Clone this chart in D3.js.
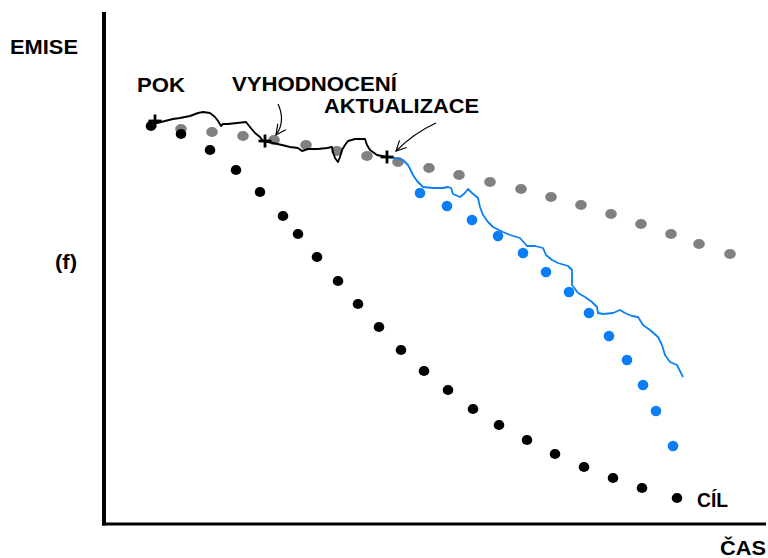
<!DOCTYPE html>
<html>
<head>
<meta charset="utf-8">
<script src="https://cdn.jsdelivr.net/npm/d3@7"></script>
<style>
  html, body { margin: 0; padding: 0; background: #fff; }
  svg { display: block; }
  text { font-family: "Liberation Sans", Arial, Helvetica, sans-serif; font-weight: bold; fill: #000; }
</style>
</head>
<body>
<svg id="chart" width="768" height="558"></svg>
<script>
// ---- Data (time units on x, emission units on y) ----
const targetDots = [ // black: target path (CÍL)
  [9.4,79.6],[15.4,78.0],[21.2,74.8],[26.4,70.8],[31.2,66.4],[35.8,61.6],[38.8,58.0],
  [42.6,53.4],[46.8,48.6],[50.8,44.0],[55.0,39.4],[59.4,34.8],[64.0,30.6],[68.8,26.8],
  [73.8,23.0],[79.0,19.8],[84.6,16.8],[90.2,14.0],[96.0,11.4],[101.8,9.2],[107.6,7.2],[114.6,5.2]
];
const baselineDots = [ // gray: business as usual
  [15.4,79.0],[21.6,78.4],[27.8,77.6],[34.0,76.8],[40.4,75.8],[46.6,74.6],[52.6,73.6],
  [58.8,72.4],[65.0,71.2],[71.0,69.8],[77.2,68.4],[83.4,67.0],[89.4,65.4],[95.4,63.8],
  [101.4,62.0],[107.4,60.0],[113.4,58.0],[119.0,56.0],[125.2,54.0]
];
const updatedDots = [ // blue: updated target path
  [63.2,66.2],[68.6,63.6],[73.6,60.8],[78.8,57.6],[83.8,54.2],[88.4,50.4],[93.0,46.4],
  [97.0,42.2],[101.0,37.6],[104.6,32.8],[107.8,27.8],[110.4,22.6],[113.8,15.6]
];
const actualLine = [ // black: actual emissions
  [9.2,80.0],[10.6,80.2],[12.2,80.6],[13.8,81.0],[15.2,81.2],[17.2,81.6],[18.8,82.2],
  [19.8,82.4],[21.2,82.2],[22.2,81.4],[22.8,80.6],[23.4,79.6],[23.8,80.0],[24.8,80.0],
  [26.6,80.2],[28.4,80.4],[29.2,79.4],[30.2,78.2],[31.2,77.4],[31.8,76.6],[33.8,76.2],
  [35.6,75.8],[37.2,75.4],[38.8,75.2],[39.6,74.6],[40.8,75.0],[42.8,75.0],[44.6,75.2],
  [45.6,75.4],[45.8,74.4],[46.2,73.2],[46.8,72.4],[47.2,73.4],[47.6,74.8],[48.2,75.8],
  [48.8,76.6],[50.2,77.0],[52.2,77.0],[52.6,75.8],[53.2,74.8],[54.6,73.8],[56.6,73.4]
];
const projectedLine = [ // blue: projected emissions after update
  [56.6,73.4],[58.2,73.2],[59.8,72.8],[60.8,71.8],[61.8,69.8],[62.6,68.6],[63.8,67.4],
  [65.8,67.2],[67.8,67.2],[68.8,67.4],[69.4,67.2],[69.8,66.0],[71.2,65.4],[72.2,66.2],
  [72.8,67.0],[73.6,66.2],[74.8,65.2],[75.2,63.4],[75.8,61.8],[76.8,60.4],[77.8,59.4],
  [79.8,58.4],[81.2,57.8],[83.2,57.2],[84.6,55.6],[86.2,55.6],[87.8,55.2],[88.4,53.8],
  [89.6,52.8],[90.8,52.2],[92.8,51.6],[93.6,50.8],[93.6,47.8],[94.8,46.2],[96.2,45.4],
  [97.6,44.4],[98.6,43.4],[98.8,42.2],[99.8,42.0],[101.8,42.2],[103.2,42.8],[104.2,42.2],
  [105.6,41.6],[106.8,41.4],[107.8,39.8],[109.2,38.8],[110.8,37.4],[111.6,35.8],
  [112.2,33.8],[113.2,32.4],[114.6,31.8],[115.8,29.4]
];
const milestones = [[10.2,80.6],[32.2,76.6],[56.6,73.4]]; // POK, VYHODNOCENÍ, AKTUALIZACE
const arrows = [ // [start, control, end]
  [[34.8,84.0],[36.4,80.6],[34.4,77.8]],
  [[66.4,80.2],[62.0,78.2],[58.4,74.6]]
];
const labels = [
  {t:"EMISE", x:10, y:54, w:68},
  {t:"(f)", x:55, y:269, w:22},
  {t:"POK", x:137, y:92, w:48},
  {t:"VYHODNOCENÍ", x:232, y:91, w:165},
  {t:"AKTUALIZACE", x:324, y:113, w:155},
  {t:"CÍL", x:697, y:507, w:31},
  {t:"ČAS", x:720, y:555, w:46}
];

// ---- Scales ----
const svg = d3.select("#chart");
const x = d3.scaleLinear().domain([0,132]).range([104,764]);
const y = d3.scaleLinear().domain([0,100]).range([524,24]);

// ---- Axes (plain lines, no ticks) ----
svg.append("line").attr("x1",x(0)).attr("x2",x(0)).attr("y1",y(102.4)).attr("y2",y(0)+1.5)
  .attr("stroke","#000").attr("stroke-width",4);
svg.append("line").attr("x1",x(0)-2).attr("x2",x(132.4)).attr("y1",y(0)).attr("y2",y(0))
  .attr("stroke","#000").attr("stroke-width",3);

// ---- Dots ----
function dots(data, color, rx, ry) {
  svg.append("g").selectAll("ellipse").data(data).join("ellipse")
    .attr("cx", d => x(d[0])).attr("cy", d => y(d[1]))
    .attr("rx", rx).attr("ry", ry).attr("fill", color);
}
dots(baselineDots, "#808080", 5.8, 5);
dots(updatedDots, "#0a7ef7", 5.3, 5.3);
dots(targetDots, "#000", 5.3, 5.1);

// ---- Lines ----
const line = d3.line().x(d => x(d[0])).y(d => y(d[1])).curve(d3.curveLinear);
svg.append("path").attr("d", line(projectedLine)).attr("fill","none")
  .attr("stroke","#0a7ef7").attr("stroke-width",1.8).attr("stroke-linejoin","round");
svg.append("path").attr("d", line(actualLine)).attr("fill","none")
  .attr("stroke","#000").attr("stroke-width",1.9).attr("stroke-linejoin","round");

// ---- Milestone crosses ----
const cross = svg.append("g").selectAll("g").data(milestones).join("g")
  .attr("transform", d => `translate(${x(d[0])},${y(d[1])})`);
cross.append("line").attr("x1",-6.5).attr("x2",6.5).attr("y1",0).attr("y2",0)
  .attr("stroke","#000").attr("stroke-width",2.8);
cross.append("line").attr("x1",0).attr("x2",0).attr("y1",-6.5).attr("y2",6.5)
  .attr("stroke","#000").attr("stroke-width",2.8);

// ---- Arrows ----
svg.append("defs").append("marker").attr("id","ah")
  .attr("viewBox","0 0 12 12").attr("refX",11).attr("refY",6)
  .attr("markerWidth",12).attr("markerHeight",12).attr("markerUnits","userSpaceOnUse")
  .attr("orient","auto")
  .append("path").attr("d","M1,1 L11,6 L1,11").attr("fill","none")
  .attr("stroke","#000").attr("stroke-width",1.2);
svg.append("g").selectAll("path").data(arrows).join("path")
  .attr("d", d => `M${x(d[0][0])},${y(d[0][1])} Q${x(d[1][0])},${y(d[1][1])} ${x(d[2][0])},${y(d[2][1])}`)
  .attr("fill","none").attr("stroke","#000").attr("stroke-width",1.2)
  .attr("marker-end","url(#ah)");

// ---- Labels ----
svg.append("g").selectAll("text").data(labels).join("text")
  .attr("x", d => d.x).attr("y", d => d.y)
  .attr("font-size", 21)
  .attr("textLength", d => d.w).attr("lengthAdjust","spacingAndGlyphs")
  .text(d => d.t);
</script>
</body>
</html>
